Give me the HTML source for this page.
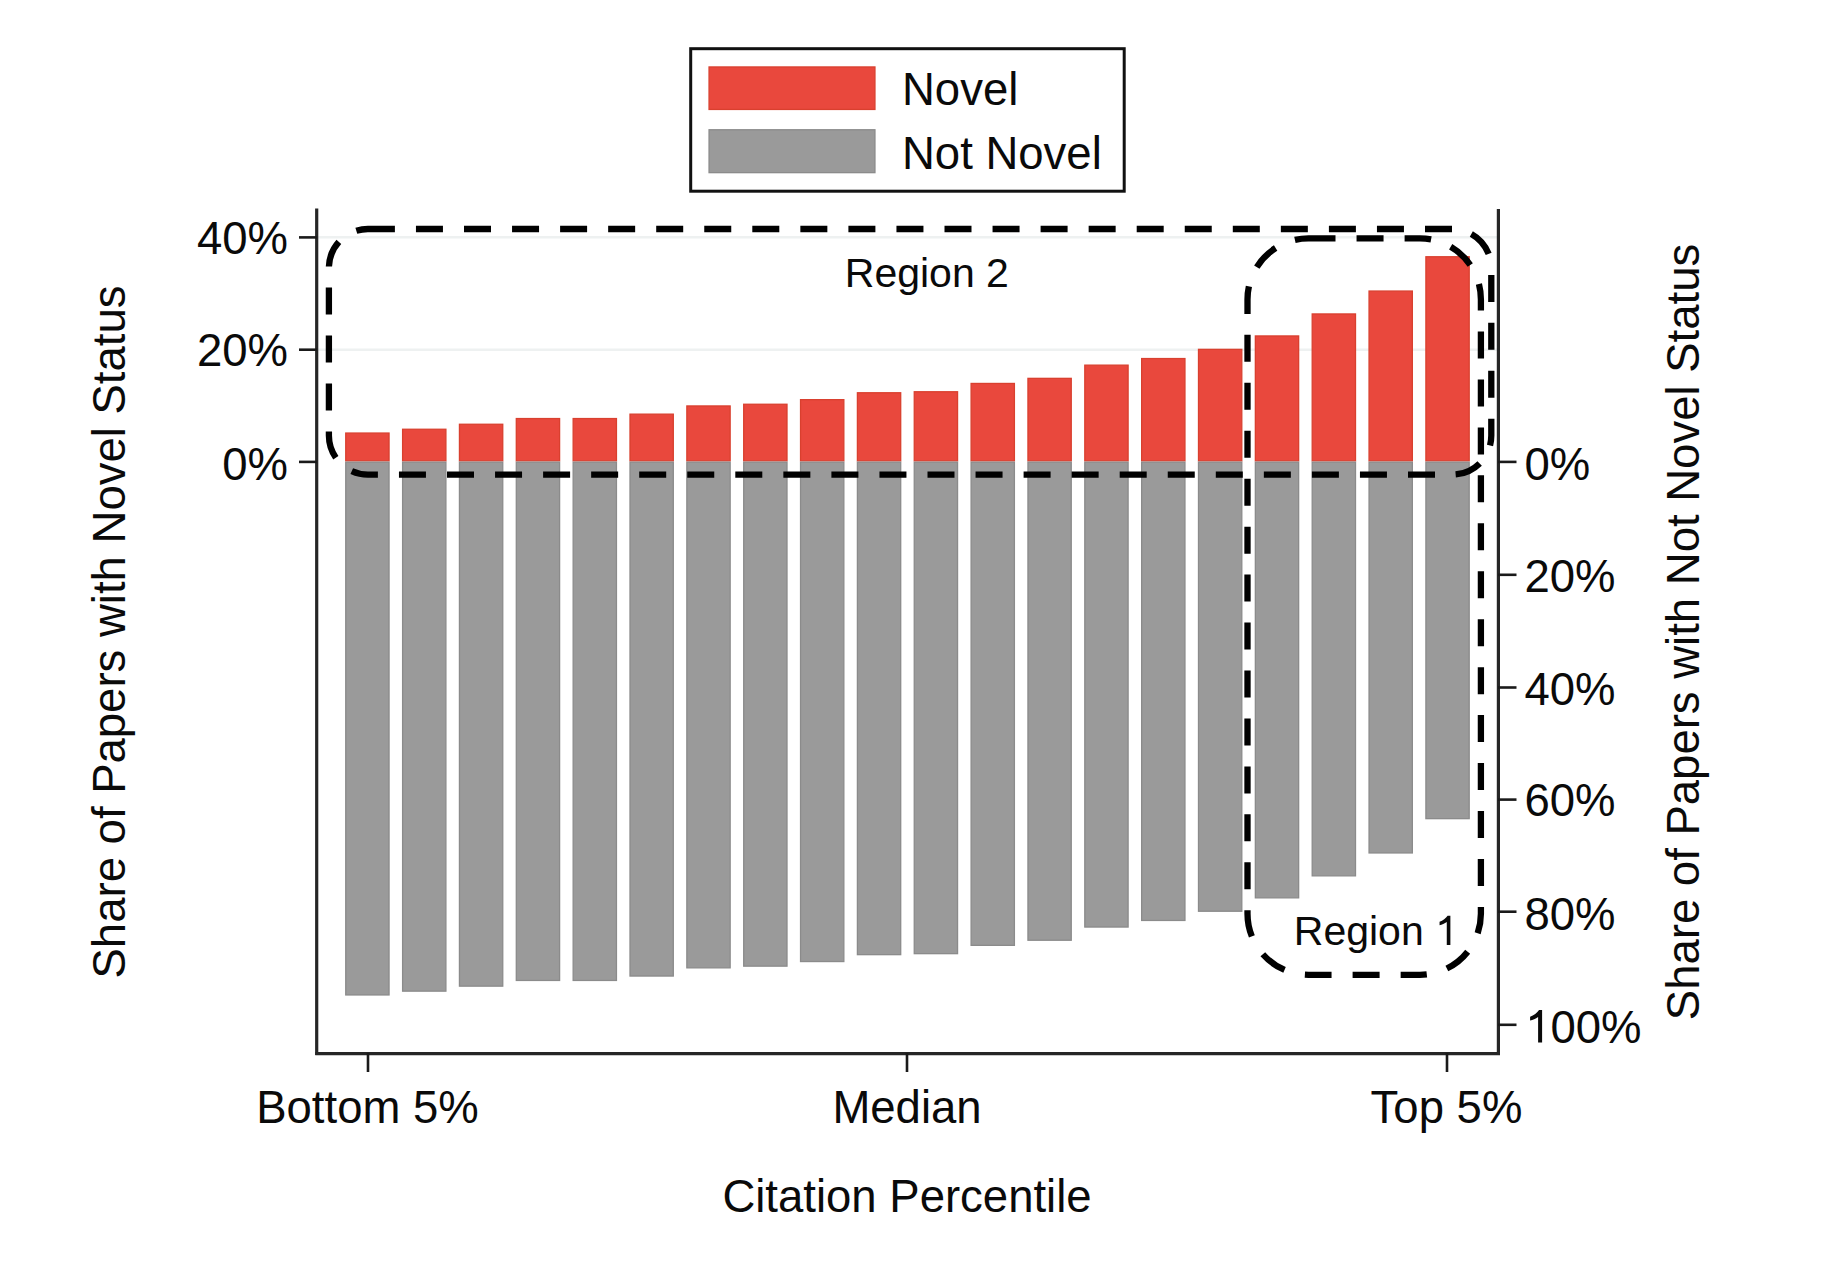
<!DOCTYPE html>
<html><head><meta charset="utf-8"><style>
html,body{margin:0;padding:0;background:#fff;}
svg{display:block;}
text{font-family:"Liberation Sans",sans-serif;fill:#0a0a0a;}
</style></head><body>
<svg width="1822" height="1266" viewBox="0 0 1822 1266">
<rect x="0" y="0" width="1822" height="1266" fill="#fff"/>
<line x1="318" y1="237.3" x2="1497" y2="237.3" stroke="#eef1f1" stroke-width="2.5"/>
<line x1="318" y1="349.8" x2="1497" y2="349.8" stroke="#eef1f1" stroke-width="2.5"/>
<rect x="345.75" y="433.05" width="43.30" height="27.80" fill="#e9483d" stroke="#d9402f" stroke-width="1.3"/>
<rect x="345.75" y="462.15" width="43.30" height="532.80" fill="#9a9a9a" stroke="#8b8b8b" stroke-width="1.3"/>
<rect x="402.60" y="429.25" width="43.30" height="31.60" fill="#e9483d" stroke="#d9402f" stroke-width="1.3"/>
<rect x="402.60" y="462.15" width="43.30" height="529.00" fill="#9a9a9a" stroke="#8b8b8b" stroke-width="1.3"/>
<rect x="459.45" y="424.25" width="43.30" height="36.60" fill="#e9483d" stroke="#d9402f" stroke-width="1.3"/>
<rect x="459.45" y="462.15" width="43.30" height="524.00" fill="#9a9a9a" stroke="#8b8b8b" stroke-width="1.3"/>
<rect x="516.30" y="418.55" width="43.30" height="42.30" fill="#e9483d" stroke="#d9402f" stroke-width="1.3"/>
<rect x="516.30" y="462.15" width="43.30" height="518.30" fill="#9a9a9a" stroke="#8b8b8b" stroke-width="1.3"/>
<rect x="573.15" y="418.55" width="43.30" height="42.30" fill="#e9483d" stroke="#d9402f" stroke-width="1.3"/>
<rect x="573.15" y="462.15" width="43.30" height="518.30" fill="#9a9a9a" stroke="#8b8b8b" stroke-width="1.3"/>
<rect x="630.00" y="414.15" width="43.30" height="46.70" fill="#e9483d" stroke="#d9402f" stroke-width="1.3"/>
<rect x="630.00" y="462.15" width="43.30" height="513.90" fill="#9a9a9a" stroke="#8b8b8b" stroke-width="1.3"/>
<rect x="686.85" y="405.95" width="43.30" height="54.90" fill="#e9483d" stroke="#d9402f" stroke-width="1.3"/>
<rect x="686.85" y="462.15" width="43.30" height="505.70" fill="#9a9a9a" stroke="#8b8b8b" stroke-width="1.3"/>
<rect x="743.70" y="404.25" width="43.30" height="56.60" fill="#e9483d" stroke="#d9402f" stroke-width="1.3"/>
<rect x="743.70" y="462.15" width="43.30" height="504.00" fill="#9a9a9a" stroke="#8b8b8b" stroke-width="1.3"/>
<rect x="800.55" y="399.65" width="43.30" height="61.20" fill="#e9483d" stroke="#d9402f" stroke-width="1.3"/>
<rect x="800.55" y="462.15" width="43.30" height="499.40" fill="#9a9a9a" stroke="#8b8b8b" stroke-width="1.3"/>
<rect x="857.40" y="392.75" width="43.30" height="68.10" fill="#e9483d" stroke="#d9402f" stroke-width="1.3"/>
<rect x="857.40" y="462.15" width="43.30" height="492.50" fill="#9a9a9a" stroke="#8b8b8b" stroke-width="1.3"/>
<rect x="914.25" y="391.75" width="43.30" height="69.10" fill="#e9483d" stroke="#d9402f" stroke-width="1.3"/>
<rect x="914.25" y="462.15" width="43.30" height="491.50" fill="#9a9a9a" stroke="#8b8b8b" stroke-width="1.3"/>
<rect x="971.10" y="383.45" width="43.30" height="77.40" fill="#e9483d" stroke="#d9402f" stroke-width="1.3"/>
<rect x="971.10" y="462.15" width="43.30" height="483.20" fill="#9a9a9a" stroke="#8b8b8b" stroke-width="1.3"/>
<rect x="1027.95" y="378.35" width="43.30" height="82.50" fill="#e9483d" stroke="#d9402f" stroke-width="1.3"/>
<rect x="1027.95" y="462.15" width="43.30" height="478.10" fill="#9a9a9a" stroke="#8b8b8b" stroke-width="1.3"/>
<rect x="1084.80" y="365.15" width="43.30" height="95.70" fill="#e9483d" stroke="#d9402f" stroke-width="1.3"/>
<rect x="1084.80" y="462.15" width="43.30" height="464.90" fill="#9a9a9a" stroke="#8b8b8b" stroke-width="1.3"/>
<rect x="1141.65" y="358.55" width="43.30" height="102.30" fill="#e9483d" stroke="#d9402f" stroke-width="1.3"/>
<rect x="1141.65" y="462.15" width="43.30" height="458.30" fill="#9a9a9a" stroke="#8b8b8b" stroke-width="1.3"/>
<rect x="1198.50" y="349.35" width="43.30" height="111.50" fill="#e9483d" stroke="#d9402f" stroke-width="1.3"/>
<rect x="1198.50" y="462.15" width="43.30" height="449.10" fill="#9a9a9a" stroke="#8b8b8b" stroke-width="1.3"/>
<rect x="1255.35" y="335.95" width="43.30" height="124.90" fill="#e9483d" stroke="#d9402f" stroke-width="1.3"/>
<rect x="1255.35" y="462.15" width="43.30" height="435.70" fill="#9a9a9a" stroke="#8b8b8b" stroke-width="1.3"/>
<rect x="1312.20" y="313.95" width="43.30" height="146.90" fill="#e9483d" stroke="#d9402f" stroke-width="1.3"/>
<rect x="1312.20" y="462.15" width="43.30" height="413.70" fill="#9a9a9a" stroke="#8b8b8b" stroke-width="1.3"/>
<rect x="1369.05" y="291.05" width="43.30" height="169.80" fill="#e9483d" stroke="#d9402f" stroke-width="1.3"/>
<rect x="1369.05" y="462.15" width="43.30" height="390.80" fill="#9a9a9a" stroke="#8b8b8b" stroke-width="1.3"/>
<rect x="1425.90" y="256.75" width="43.30" height="204.10" fill="#e9483d" stroke="#d9402f" stroke-width="1.3"/>
<rect x="1425.90" y="462.15" width="43.30" height="356.50" fill="#9a9a9a" stroke="#8b8b8b" stroke-width="1.3"/>
<g stroke="#262626" stroke-width="3.2" fill="none">
<line x1="316.7" y1="208.5" x2="316.7" y2="1055"/>
<line x1="315.3" y1="1053.6" x2="1500" y2="1053.6"/>
<line x1="1498.4" y1="209" x2="1498.4" y2="1055"/>
</g>
<g stroke="#1a1a1a" stroke-width="2.6" fill="none">
<line x1="299" y1="237.4" x2="317" y2="237.4"/>
<line x1="299" y1="349.7" x2="317" y2="349.7"/>
<line x1="299" y1="461.9" x2="317" y2="461.9"/>
<line x1="1498" y1="461.9" x2="1516.5" y2="461.9"/>
<line x1="1498" y1="574.8" x2="1516.5" y2="574.8"/>
<line x1="1498" y1="687.5" x2="1516.5" y2="687.5"/>
<line x1="1498" y1="799.6" x2="1516.5" y2="799.6"/>
<line x1="1498" y1="911.7" x2="1516.5" y2="911.7"/>
<line x1="1498" y1="1024.8" x2="1516.5" y2="1024.8"/>
<line x1="368" y1="1053" x2="368" y2="1072"/>
<line x1="907" y1="1053" x2="907" y2="1072"/>
<line x1="1447" y1="1053" x2="1447" y2="1072"/>
</g>
<g font-size="45.5">
<text x="288" y="253.8" text-anchor="end">40%</text>
<text x="288" y="366.1" text-anchor="end">20%</text>
<text x="288" y="479.8" text-anchor="end">0%</text>
<text x="1524.5" y="479.7">0%</text>
<text x="1524.5" y="591.5">20%</text>
<text x="1524.5" y="704.5">40%</text>
<text x="1524.5" y="816.3">60%</text>
<text x="1524.5" y="929.9">80%</text>
<path transform="translate(1525.15,1042.6) scale(0.022217,-0.022217)" d="M763,0 L583,0 L583,1150 C480,1075 340,1020 223,990 L223,1165 C390,1225 540,1340 625,1466 L763,1466 Z" fill="#0a0a0a"/>
<text x="1550.45" y="1042.6">00%</text>
<text x="367.5" y="1122.8" text-anchor="middle">Bottom 5%</text>
<text x="907" y="1122.8" text-anchor="middle">Median</text>
<text x="1446.5" y="1122.8" text-anchor="middle">Top 5%</text>
<text x="907" y="1211.8" text-anchor="middle">Citation Percentile</text>
<text transform="translate(124.5,632) rotate(-90)" text-anchor="middle">Share of Papers with Novel Status</text>
<text transform="translate(1698.6,632) rotate(-90)" text-anchor="middle">Share of Papers with Not Novel Status</text>
</g>
<rect x="690.7" y="48.7" width="433.5" height="142.5" fill="#fff" stroke="#111" stroke-width="3"/>
<rect x="709.05" y="66.95" width="165.9" height="42.5" fill="#e9483d" stroke="#d9402f" stroke-width="1.3"/>
<rect x="709.05" y="129.75" width="165.9" height="42.9" fill="#9a9a9a" stroke="#8b8b8b" stroke-width="1.3"/>
<g font-size="45.5">
<text x="902" y="104.9">Novel</text>
<text x="902" y="169.1">Not Novel</text>
</g>
<g fill="none" stroke="#000" stroke-width="6.3" stroke-linejoin="round">
<path d="M356.32,230.76 A39,39 0 0 1 367.90,229.00 L394.90,229.00 M415.95,229.00 L442.95,229.00 M464.00,229.00 L491.00,229.00 M512.05,229.00 L539.05,229.00 M560.10,229.00 L587.10,229.00 M608.15,229.00 L635.15,229.00 M656.20,229.00 L683.20,229.00 M704.25,229.00 L731.25,229.00 M752.30,229.00 L779.30,229.00 M800.35,229.00 L827.35,229.00 M848.40,229.00 L875.40,229.00 M896.45,229.00 L923.45,229.00 M944.50,229.00 L971.50,229.00 M992.55,229.00 L1019.55,229.00 M1040.60,229.00 L1067.60,229.00 M1088.65,229.00 L1115.65,229.00 M1136.70,229.00 L1163.70,229.00 M1184.75,229.00 L1211.75,229.00 M1232.80,229.00 L1259.80,229.00 M1280.85,229.00 L1307.85,229.00 M1328.90,229.00 L1355.90,229.00 M1376.95,229.00 L1403.95,229.00 M1425.00,229.00 L1452.00,229.00 M1471.33,233.96 A39,39 0 0 1 1488.68,253.94 M1491.30,274.90 L1491.30,301.90 M1491.30,322.85 L1491.30,349.85 M1491.30,370.80 L1491.30,397.80 M1491.30,418.75 L1491.30,435.60 A39,39 0 0 1 1490.04,445.42 M1479.66,463.39 A39,39 0 0 1 1455.63,474.46 M1435.00,474.60 L1408.00,474.60 M1386.95,474.60 L1359.95,474.60 M1338.90,474.60 L1311.90,474.60 M1290.85,474.60 L1263.85,474.60 M1242.80,474.60 L1215.80,474.60 M1194.75,474.60 L1167.75,474.60 M1146.70,474.60 L1119.70,474.60 M1098.65,474.60 L1071.65,474.60 M1050.60,474.60 L1023.60,474.60 M1002.55,474.60 L975.55,474.60 M954.50,474.60 L927.50,474.60 M906.45,474.60 L879.45,474.60 M858.40,474.60 L831.40,474.60 M810.35,474.60 L783.35,474.60 M762.30,474.60 L735.30,474.60 M714.25,474.60 L687.25,474.60 M666.20,474.60 L639.20,474.60 M618.15,474.60 L591.15,474.60 M570.10,474.60 L543.10,474.60 M522.05,474.60 L495.05,474.60 M474.00,474.60 L447.00,474.60 M425.95,474.60 L398.95,474.60 M377.90,474.60 L367.90,474.60 A39,39 0 0 1 351.77,471.11 M335.84,457.81 A39,39 0 0 1 328.90,435.60 L328.90,431.45 M328.90,410.50 L328.90,383.50 M328.90,362.55 L328.90,335.55 M328.90,314.60 L328.90,287.60 M328.93,266.50 A39,39 0 0 1 338.86,241.97"/>
<path d="M1294.90,239.94 A61,61 0 0 1 1308.50,238.40 L1335.50,238.40 M1356.55,238.40 L1383.55,238.40 M1404.60,238.40 L1419.90,238.40 A61,61 0 0 1 1431.10,239.44 M1450.68,246.73 A61,61 0 0 1 1470.27,264.99 M1478.93,284.01 A61,61 0 0 1 1480.90,299.40 L1480.90,310.55 M1480.90,331.50 L1480.90,358.50 M1480.90,379.45 L1480.90,406.45 M1480.90,427.40 L1480.90,454.40 M1480.90,475.35 L1480.90,502.35 M1480.90,523.30 L1480.90,550.30 M1480.90,571.25 L1480.90,598.25 M1480.90,619.20 L1480.90,646.20 M1480.90,667.15 L1480.90,694.15 M1480.90,715.10 L1480.90,742.10 M1480.90,763.05 L1480.90,790.05 M1480.90,811.00 L1480.90,838.00 M1480.90,858.95 L1480.90,885.95 M1480.90,906.90 L1480.90,913.80 A61,61 0 0 1 1477.68,933.36 M1467.69,951.71 A61,61 0 0 1 1446.85,968.53 M1426.79,974.41 A61,61 0 0 1 1419.90,974.80 L1400.65,974.80 M1379.60,974.80 L1352.60,974.80 M1331.55,974.80 L1308.50,974.80 A61,61 0 0 1 1304.89,974.69 M1284.55,969.90 A61,61 0 0 1 1262.83,954.24 M1251.86,936.45 A61,61 0 0 1 1247.50,913.80 L1247.50,910.25 M1247.50,889.30 L1247.50,862.30 M1247.50,841.35 L1247.50,814.35 M1247.50,793.40 L1247.50,766.40 M1247.50,745.45 L1247.50,718.45 M1247.50,697.50 L1247.50,670.50 M1247.50,649.55 L1247.50,622.55 M1247.50,601.60 L1247.50,574.60 M1247.50,553.65 L1247.50,526.65 M1247.50,505.70 L1247.50,478.70 M1247.50,457.75 L1247.50,430.75 M1247.50,409.80 L1247.50,382.80 M1247.50,361.85 L1247.50,334.85 M1247.50,313.90 L1247.50,299.40 A61,61 0 0 1 1248.90,286.40 M1256.79,267.05 A61,61 0 0 1 1275.63,248.02"/>
</g>
<g font-size="41">
<text x="844.8" y="286.7">Region 2</text>
<text x="1293.8" y="945.0">Region </text>
</g>
<path transform="translate(1435.1,945.0) scale(0.020020,-0.020020)" d="M763,0 L583,0 L583,1150 C480,1075 340,1020 223,990 L223,1165 C390,1225 540,1340 625,1466 L763,1466 Z" fill="#0a0a0a"/>
</svg>
</body></html>
